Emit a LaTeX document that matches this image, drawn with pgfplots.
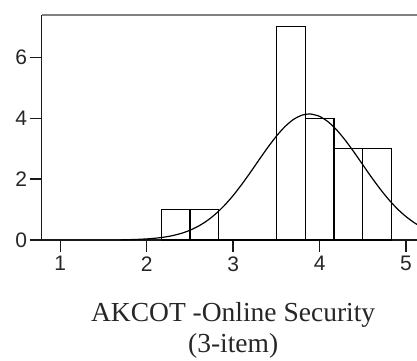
\documentclass[border=0pt]{standalone}
\usepackage{fontspec}
\setmainfont{Liberation Sans}
\newfontfamily\labelfont{Liberation Serif}
\usepackage{pgfplots}
\pgfplotsset{compat=1.18}

% Histogram counts per bin (bin width 1/3), given at the left edge of each bin
\pgfplotstableread{
x       n
2.1667  1
2.5000  1
2.8333  0
3.1667  0
3.5000  7
3.8333  4
4.1667  3
4.5000  3
4.8333  0
}\bins

\begin{document}
\begin{tikzpicture}
\clip (0,0) rectangle (417pt,360pt);
\begin{axis}[
  at={(41.7pt,120pt)}, anchor=south west,
  scale only axis, width=375.3pt, height=225pt,
  xmin=0.785, xmax=5.127, ymin=0, ymax=7.39,
  axis x line*=bottom, axis y line*=left,
  axis line style={-, line width=1.4pt, black!90},
  xtick={1,2,3,4,5}, ytick={0,2,4,6},
  tick align=outside, major tick length=12pt,
  tick style={line width=1.4pt, black!90},
  /pgf/number format/assume math mode=true,
  ticklabel style={font=\fontsize{21}{21}\selectfont, black!85},
  xticklabel style={yshift=-1pt},
  yticklabel style={xshift=1pt},
  clip=false,
]
\addplot[ybar interval, fill=white, draw=black, line width=1.2pt] table[x=x, y=n] {\bins};

% Normal curve (mean 3.88, sd 0.61, n = 19)
\addplot[black, line width=1.2pt, smooth] coordinates {
(1.7,0.007) (1.8,0.012) (1.9,0.021) (2.0,0.036) (2.1,0.059) (2.2,0.093)
(2.3,0.145) (2.4,0.218) (2.5,0.320) (2.6,0.458) (2.7,0.637) (2.8,0.864)
(2.9,1.139) (3.0,1.462) (3.1,1.828) (3.2,2.224) (3.3,2.635) (3.4,3.038)
(3.5,3.410) (3.6,3.726) (3.7,3.964) (3.8,4.104) (3.88,4.140) (3.9,4.138)
(4.0,4.061) (4.1,3.879) (4.2,3.608) (4.3,3.266) (4.4,2.879) (4.5,2.470)
(4.6,2.063) (4.7,1.678) (4.8,1.328) (4.9,1.023) (5.0,0.768) (5.1,0.560)
(5.2,0.398)
};

\draw[gray, line width=2.6pt] (rel axis cs:0,1) -- (rel axis cs:1.1,1);
\draw[black!90, line width=1.4pt] (rel axis cs:0,0) -- (rel axis cs:0,1);

\node[anchor=base, font=\labelfont\fontsize{27.5}{31}\selectfont, black!85]
  at ([yshift=-81.7pt]axis cs:3,0) {AKCOT -Online Security};
\node[anchor=base, font=\labelfont\fontsize{27.5}{31}\selectfont, black!85]
  at ([yshift=-112pt]axis cs:3,0) {(3-item)};
\end{axis}
\end{tikzpicture}
\end{document}
